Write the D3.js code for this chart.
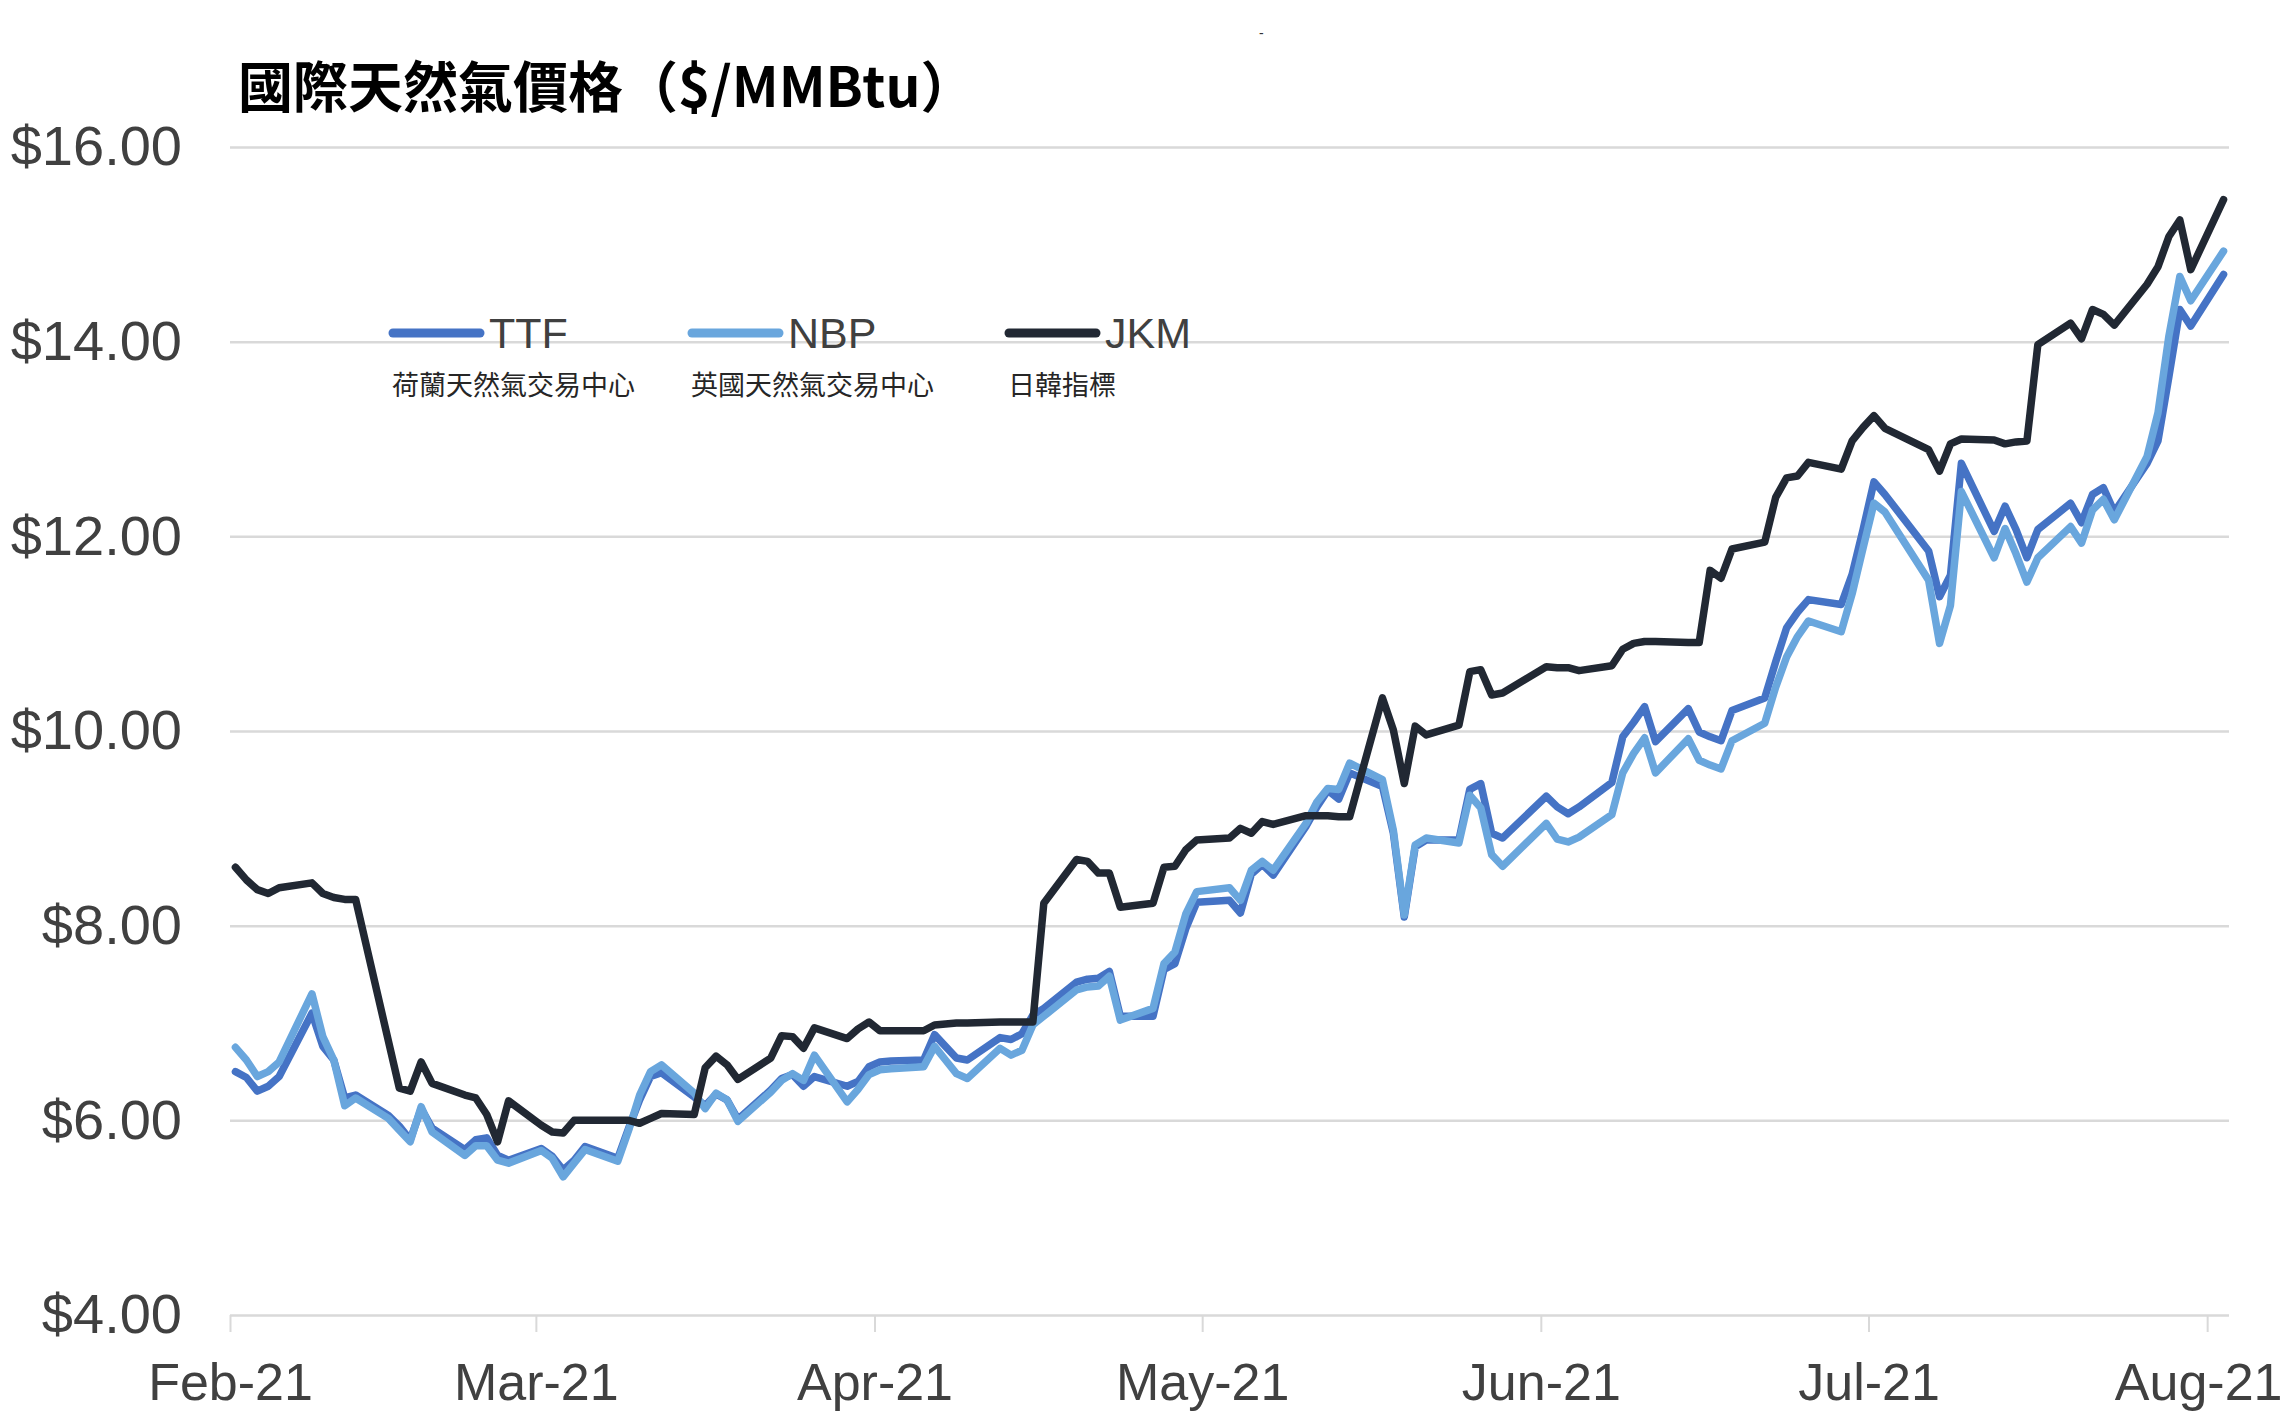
<!DOCTYPE html>
<html><head><meta charset="utf-8">
<script src="https://cdn.jsdelivr.net/npm/d3@7"></script>
<style>html,body{margin:0;padding:0;background:#fff;} svg{display:block}</style>
</head><body>
<svg id="chart" width="2284" height="1419"></svg>
<script>
const titleText = "國際天然氣價格（$/MMBtu）";
const seriesNames = ["TTF", "NBP", "JKM"];
const seriesSubNames = ["荷蘭天然氣交易中心", "英國天然氣交易中心", "日韓指標"];
const yTicks = [4, 6, 8, 10, 12, 14, 16];
const monthTicks = ["2021-02-01","2021-03-01","2021-04-01","2021-05-01","2021-06-01","2021-07-01","2021-08-01"];

const dates = [
"2021-02-01","2021-02-02","2021-02-03","2021-02-04","2021-02-05","2021-02-08","2021-02-09","2021-02-10","2021-02-11","2021-02-12",
"2021-02-15","2021-02-16","2021-02-17","2021-02-18","2021-02-19","2021-02-22","2021-02-23","2021-02-24","2021-02-25","2021-02-26",
"2021-03-01","2021-03-02","2021-03-03","2021-03-04","2021-03-05","2021-03-08","2021-03-09","2021-03-10","2021-03-11","2021-03-12",
"2021-03-15","2021-03-16","2021-03-17","2021-03-18","2021-03-19","2021-03-22","2021-03-23","2021-03-24","2021-03-25","2021-03-26",
"2021-03-29","2021-03-30","2021-03-31",
"2021-04-01","2021-04-02","2021-04-05","2021-04-06","2021-04-07","2021-04-08","2021-04-09","2021-04-12","2021-04-13","2021-04-14",
"2021-04-15","2021-04-16","2021-04-19","2021-04-20","2021-04-21","2021-04-22","2021-04-23","2021-04-26","2021-04-27","2021-04-28",
"2021-04-29","2021-04-30",
"2021-05-03","2021-05-04","2021-05-05","2021-05-06","2021-05-07","2021-05-10","2021-05-11","2021-05-12","2021-05-13","2021-05-14",
"2021-05-17","2021-05-18","2021-05-19","2021-05-20","2021-05-21","2021-05-24","2021-05-25","2021-05-26","2021-05-27","2021-05-28",
"2021-05-31",
"2021-06-01","2021-06-02","2021-06-03","2021-06-04","2021-06-07","2021-06-08","2021-06-09","2021-06-10","2021-06-11","2021-06-14",
"2021-06-15","2021-06-16","2021-06-17","2021-06-18","2021-06-21","2021-06-22","2021-06-23","2021-06-24","2021-06-25","2021-06-28",
"2021-06-29","2021-06-30",
"2021-07-01","2021-07-02","2021-07-05","2021-07-06","2021-07-07","2021-07-08","2021-07-09","2021-07-12","2021-07-13","2021-07-14",
"2021-07-15","2021-07-16","2021-07-19","2021-07-20","2021-07-21","2021-07-22","2021-07-23","2021-07-26","2021-07-27","2021-07-28",
"2021-07-29","2021-07-30",
"2021-08-02"
];

const ttfValues = [
6.50,6.44,6.30,6.35,6.45,7.10,6.76,6.62,6.23,6.26,6.05,5.94,5.80,6.12,5.92,5.70,5.80,5.82,5.64,5.59,
5.71,5.63,5.49,5.59,5.73,5.61,5.92,6.21,6.45,6.49,6.24,6.15,6.27,6.21,6.01,6.31,6.43,6.47,6.35,6.45,6.35,6.40,6.55,
6.60,6.61,6.62,6.88,6.76,6.64,6.62,6.85,6.83,6.89,7.08,7.15,7.42,7.45,7.46,7.53,7.07,7.07,7.55,7.61,7.97,8.24,
8.26,8.13,8.53,8.63,8.52,9.02,9.22,9.39,9.30,9.57,9.43,8.95,8.09,8.81,8.88,8.88,9.40,9.46,8.95,8.90,null,
9.33,9.22,9.15,9.22,9.47,9.94,10.09,10.25,9.89,10.23,9.99,9.94,9.90,10.21,10.34,10.71,11.06,11.22,11.35,11.30,11.61,12.07,
12.56,12.43,null,11.85,11.38,11.60,12.75,12.05,12.31,12.07,11.78,12.07,12.34,12.14,12.43,12.50,12.25,12.75,12.98,13.64,14.33,14.16,
14.69
];

const nbpValues = [
6.75,6.62,6.45,6.50,6.60,7.30,6.86,6.62,6.15,6.23,6.02,5.90,5.78,6.14,5.88,5.64,5.74,5.74,5.59,5.56,
5.69,5.61,5.42,5.56,5.70,5.58,5.90,6.26,6.50,6.57,6.28,6.12,6.28,6.21,5.99,6.29,6.41,6.48,6.41,6.67,6.19,6.32,6.47,
6.52,6.53,6.55,6.76,6.62,6.48,6.43,6.74,6.67,6.72,6.98,7.07,7.34,7.37,7.38,7.48,7.03,7.15,7.61,7.73,8.12,8.35,
8.39,8.26,8.57,8.66,8.57,9.05,9.27,9.41,9.40,9.67,9.50,8.98,8.11,8.83,8.90,8.85,9.34,9.21,8.73,8.61,null,
9.05,8.89,8.86,8.91,9.14,9.57,9.77,9.93,9.57,9.92,9.70,9.65,9.61,9.90,10.08,10.45,10.76,10.97,11.13,11.02,11.41,11.88,
12.34,12.25,null,11.55,10.90,11.29,12.46,11.78,12.08,11.82,11.53,11.78,12.10,11.93,12.27,12.38,12.17,12.82,13.27,14.06,14.67,14.42,
14.93
];

const jkmValues = [
8.60,8.47,8.37,8.33,8.39,8.44,8.33,8.29,8.27,8.27,null,6.33,6.30,6.60,6.38,6.26,6.23,6.06,5.78,6.20,
5.95,5.88,5.87,6.00,6.00,6.00,6.00,5.97,6.02,6.07,6.06,6.54,6.66,6.57,6.42,6.64,6.87,6.86,6.74,6.95,6.84,6.94,7.01,
6.92,6.92,6.92,6.98,6.99,7.00,7.00,7.01,7.01,7.01,7.01,8.23,8.68,8.66,8.54,8.54,8.19,8.23,8.60,8.61,8.78,8.88,
8.90,9.00,8.95,9.07,9.04,9.13,9.13,9.13,9.12,9.12,10.34,10.01,9.46,10.05,9.96,10.06,10.61,10.63,10.37,10.39,null,
10.66,10.65,10.65,10.62,10.67,10.84,10.90,10.92,10.92,10.91,10.91,11.65,11.57,11.87,11.94,12.40,12.60,12.62,12.76,12.69,12.98,13.12,
13.24,13.11,null,12.89,12.67,12.95,13.00,12.99,12.95,12.97,12.98,13.97,14.19,14.03,14.33,14.28,14.17,14.59,14.77,15.08,15.25,14.74,
15.46
];

const seriesColors = ["#4573c5", "#69a6dd", "#212833"];
const seriesValues = [ttfValues, nbpValues, jkmValues];

const latin = "'Liberation Sans', Arial, sans-serif";
const cjk = "'Noto Sans CJK TC', 'Noto Sans CJK SC', sans-serif";

const parse = d3.utcParse("%Y-%m-%d");
const L = 230, R = 2229, T = 147, B = 1315;
const x = d3.scaleUtc().domain([parse("2021-02-01"), parse("2021-08-03")]).range([L, R]);
const y = d3.scaleLinear().domain([4, 16]).range([B, T]);

const svg = d3.select("#chart");
svg.append("rect").attr("width", 2284).attr("height", 1419).attr("fill", "#fff");

// gridlines
svg.append("g").attr("transform", `translate(${L},0)`)
  .call(d3.axisLeft(y).tickValues(yTicks).tickSize(-(R - L)).tickFormat(""))
  .call(g => g.select(".domain").remove())
  .call(g => g.selectAll("line").attr("stroke", "#d9d9d9").attr("stroke-width", 2.5));

// y labels
svg.append("g").attr("transform", `translate(${L},0)`)
  .call(d3.axisLeft(y).tickValues(yTicks).tickSize(0).tickPadding(48).tickFormat(d => "$" + d3.format(".2f")(d)))
  .call(g => g.select(".domain").remove())
  .call(g => g.selectAll("text").attr("font-family", latin).attr("font-size", 56).attr("fill", "#404040"));

// x axis
const xAxisG = svg.append("g").attr("transform", `translate(0,${B})`)
  .call(d3.axisBottom(x).tickValues(monthTicks.map(parse)).tickSize(17).tickFormat(d3.utcFormat("%b-%y")))
  .call(g => g.select(".domain").remove())
  .call(g => g.selectAll("line").attr("stroke", "#d9d9d9").attr("stroke-width", 2))
  .call(g => g.selectAll("text").attr("y", 85).attr("dy", null)
    .attr("font-family", latin).attr("font-size", 52).attr("fill", "#404040"));
// keep the last month label inside the picture
xAxisG.selectAll(".tick text").filter((d, i, n) => i === n.length - 1)
  .attr("text-anchor", "end").attr("x", 2282 - x(parse(monthTicks[monthTicks.length - 1])) + 0);

// lines
const line = d3.line().x(d => x(d.date)).y(d => y(d.v));
seriesValues.forEach((vals, si) => {
  const pts = dates.map((dt, i) => ({ date: new Date(parse(dt).getTime() + 12 * 3600e3), v: vals[i] }))
    .filter(p => p.v != null);
  svg.append("path").datum(pts).attr("d", line)
    .attr("fill", "none").attr("stroke", seriesColors[si]).attr("stroke-width", 7.5)
    .attr("stroke-linejoin", "round").attr("stroke-linecap", "round");
});

// title
svg.append("text").attr("x", 238).attr("y", 107).text(titleText)
  .attr("font-family", cjk).attr("font-weight", "bold").attr("font-size", 55).attr("fill", "#000");

// stray mark at top
svg.append("text").attr("x", 1259).attr("y", 38).text("-")
  .attr("font-family", latin).attr("font-size", 14).attr("fill", "#333");

// legend
const legendX = [393, 692, 1009];
seriesNames.forEach((name, i) => {
  const lx = legendX[i];
  svg.append("line").attr("x1", lx).attr("x2", lx + 87).attr("y1", 333).attr("y2", 333)
    .attr("stroke", seriesColors[i]).attr("stroke-width", 9).attr("stroke-linecap", "round");
  svg.append("text").attr("x", lx + 96).attr("y", 348).text(name)
    .attr("font-family", latin).attr("font-size", 43).attr("fill", "#404040");
  svg.append("text").attr("x", lx - 1).attr("y", 395).text(seriesSubNames[i])
    .attr("font-family", cjk).attr("font-size", 27).attr("fill", "#262626");
});
</script>
</body></html>
